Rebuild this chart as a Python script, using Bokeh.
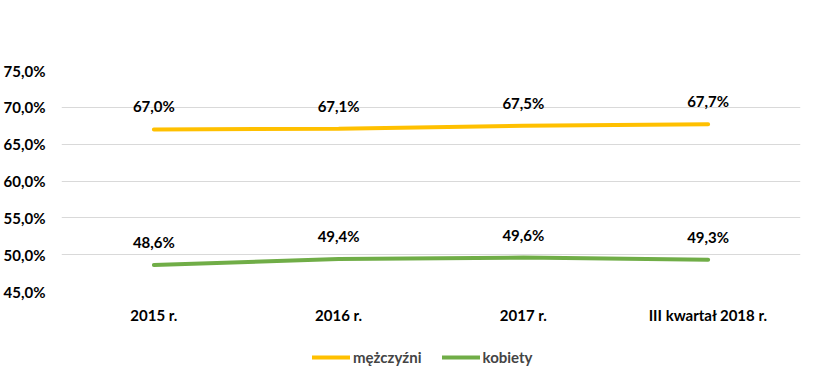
from bokeh.plotting import figure
from bokeh.layouts import column
from bokeh.models import ColumnDataSource, Legend, LegendItem, FixedTicker, Range1d, FactorRange
from bokeh.core.properties import value
from bokeh.embed import file_html
from bokeh.resources import INLINE

categories = ["2015 r.", "2016 r.", "2017 r.", "III kwartał 2018 r."]
men = [67.0, 67.1, 67.5, 67.7]
women = [48.6, 49.4, 49.6, 49.3]
y_ticks = [45, 50, 55, 60, 65, 70, 75]
y_tick_labels = ["45,0%", "50,0%", "55,0%", "60,0%", "65,0%", "70,0%", "75,0%"]
series_names = ["mężczyźni", "kobiety"]
colors = ["#FFC000", "#70AD47"]

FONT = "Lato"
FS = "15px"

def fmt(v):
    return ("%.1f%%" % v).replace(".", ",")

p = figure(width=829, height=330, x_range=FactorRange(*categories, range_padding=0),
           y_range=Range1d(45, 75), output_backend="svg", toolbar_location=None,
           min_border_left=60, min_border_right=29, min_border_top=70, min_border_bottom=39)
p.outline_line_color = None
p.background_fill_color = "white"
p.border_fill_color = "white"

p.xgrid.grid_line_color = None
p.ygrid.grid_line_color = "#D9D9D9"
p.ygrid.grid_line_width = 1

p.yaxis.ticker = FixedTicker(ticks=y_ticks)
p.yaxis.major_label_overrides = {t: l for t, l in zip(y_ticks, y_tick_labels)}
for ax in (p.xaxis[0], p.yaxis[0]):
    ax.axis_line_color = None
    ax.major_tick_line_color = None
    ax.minor_tick_line_color = None
    ax.major_tick_out = 0
    ax.major_tick_in = 0
    ax.major_label_text_font = FONT
    ax.major_label_text_font_style = "bold"
    ax.major_label_text_font_size = FS
    ax.major_label_text_color = "#000000"
p.yaxis.major_label_standoff = 16
p.xaxis.major_label_standoff = 14

# legend strip below the chart
lg = figure(width=829, height=46, x_range=FactorRange(*categories), y_range=Range1d(0, 1),
            output_backend="svg", toolbar_location=None,
            min_border_left=0, min_border_right=0, min_border_top=0, min_border_bottom=0)
lg.axis.visible = False
lg.grid.visible = False
lg.outline_line_color = None
lg.border_fill_color = "white"

items = []
for name, vals, col in zip(series_names, [men, women], colors):
    src = ColumnDataSource(dict(x=categories, y=vals, lbl=[fmt(v) for v in vals]))
    p.line("x", "y", source=src, line_color=col, line_width=4, line_cap="round")
    p.text("x", "y", text="lbl", source=src, text_font=value(FONT), text_font_style="bold",
           text_font_size=FS, text_color="#000000", text_align="center",
           text_baseline="middle", y_offset=-23)
    r = lg.line("x", "y", source=src, line_color=col, line_width=4, line_cap="round")
    items.append(LegendItem(label=name, renderers=[r]))

legend = Legend(items=items, orientation="horizontal", location=(251, 10),
                border_line_color=None, background_fill_alpha=0,
                label_text_font=FONT, label_text_font_style="bold", label_text_font_size=FS,
                glyph_width=38, glyph_height=14, label_standoff=3, spacing=20,
                padding=0, margin=0)
lg.add_layout(legend, "center")

layout = column(p, lg, spacing=0)
open("out.html", "w").write(file_html(layout, INLINE))
